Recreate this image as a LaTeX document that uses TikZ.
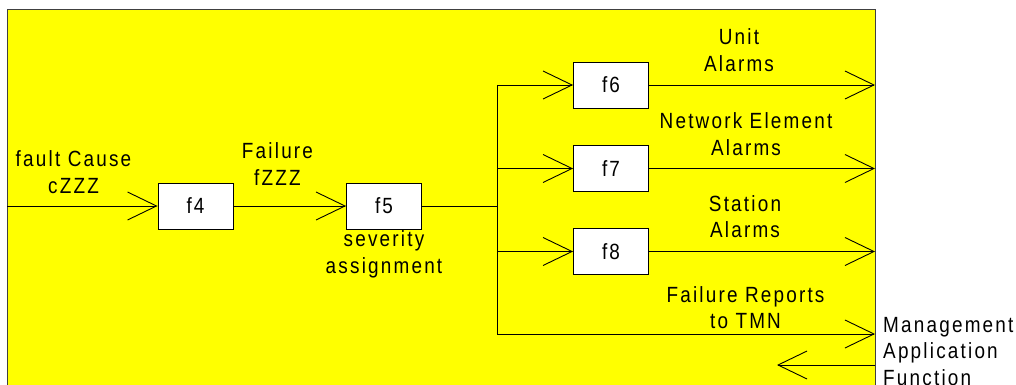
\documentclass[tikz,border=0pt]{standalone}
\usepackage{fontspec}
\setmainfont{Liberation Sans}[FakeStretch=0.86, LetterSpace=10]
\usetikzlibrary{arrows.meta}
\definecolor{bg}{RGB}{255,255,0}
\newcommand\lblfont{\fontsize{22}{26.5}\selectfont}
\begin{document}
\begin{tikzpicture}[x=1pt,y=-1pt,
  box/.style={draw, fill=white, line width=0.9pt, minimum width=75pt, minimum height=46pt, inner sep=0pt, font=\lblfont},
  lbl/.style={align=center, font=\lblfont, inner sep=0pt},
  wire/.style={line width=0.9pt},
  arr/.style={wire, -{Straight Barb[length=29pt,width=28pt,line width=0.9pt]}}]
\useasboundingbox (0,0) rectangle (1016,385);
\begin{scope}
\clip (0,0) rectangle (1016,385);
\draw[fill=bg, draw=black!75, line width=1pt] (7,10) rectangle (875,400);
\end{scope}
% boxes
\node[box] (f4) at (195.5,206) {f4};
\node[box] (f5) at (384,206) {f5};
\node[box] (f6) at (611,85) {f6};
\node[box] (f7) at (611,168.5) {f7};
\node[box] (f8) at (611,251.5) {f8};
% coordinates
\coordinate (in) at (7,206);
\coordinate (br) at (497,206);
\coordinate (b6) at (497,85);
\coordinate (b7) at (497,168.5);
\coordinate (b8) at (497,251.5);
\coordinate (bT) at (497,334);
\coordinate (o6) at (875,85);
\coordinate (o7) at (875,168.5);
\coordinate (o8) at (875,251.5);
\coordinate (oT) at (875,334);
\coordinate (rin) at (875,365);
\coordinate (rtip) at (777,365);
% connectors
\draw[arr] (in) -- (f4);
\draw[arr] (f4) -- (f5);
\draw[wire] (f5.east) -- (br);
\draw[wire] (b6) -- (bT);
\draw[arr] (b6) -- (f6.west);
\draw[arr] (b7) -- (f7.west);
\draw[arr] (b8) -- (f8.west);
\draw[arr] (f6.east) -- (o6);
\draw[arr] (f7.east) -- (o7);
\draw[arr] (f8.east) -- (o8);
\draw[arr] (bT) -- (oT);
\draw[arr] (rin) -- (rtip);
% labels (base anchor = baseline of last line)
\node[lbl, anchor=base] (tfc) at (73.5,193) {fault Cause\\cZZZ};
\node[lbl, anchor=base] (tfl) at (277.5,185) {Failure\\fZZZ};
\node[lbl, anchor=base] (tsv) at (384,273) {severity\\assignment};
\node[lbl, anchor=base] (tua) at (739,71.5) {Unit\\Alarms};
\node[lbl, anchor=base] (tne) at (746,155) {Network Element\\Alarms};
\node[lbl, anchor=base] (tst) at (745,237.5) {Station\\Alarms};
\node[lbl, anchor=base] (tfr) at (745.5,328.5) {Failure Reports\\to TMN};
\node[lbl, anchor=base west, align=left] (tma) at (883,385) {Management\\Application\\Function};
\end{tikzpicture}
\end{document}
